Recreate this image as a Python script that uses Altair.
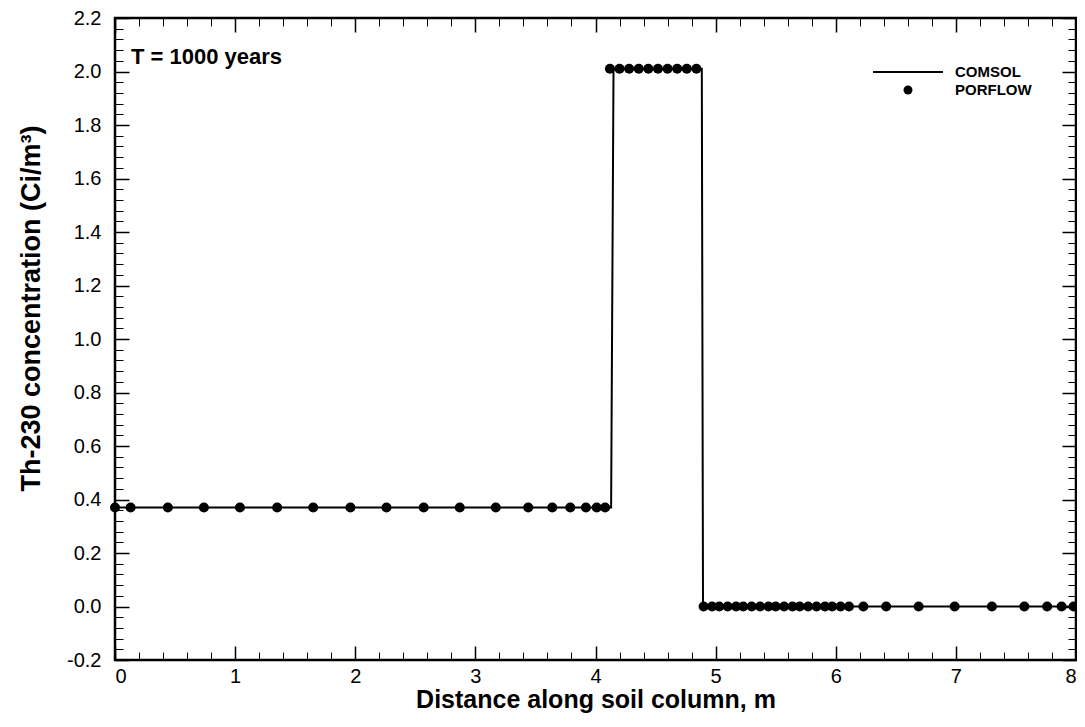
import altair as alt
import pandas as pd

# ---- data ----
comsol_x = [0.0, 4.13, 4.15, 4.885, 4.895, 8.0]
comsol_y = [0.37, 0.37, 2.01, 2.01, 0.0, 0.0]

porflow_left_x = [0.0, 0.13, 0.44, 0.74, 1.04, 1.35, 1.65, 1.96, 2.26, 2.57,
                  2.87, 3.17, 3.44, 3.64, 3.79, 3.92, 4.01, 4.08]
porflow_left_y = [0.37] * len(porflow_left_x)
porflow_mid_x = [4.12, 4.20, 4.28, 4.36, 4.44, 4.52, 4.60, 4.68, 4.76, 4.84]
porflow_mid_y = [2.01] * len(porflow_mid_x)
porflow_right_x = [4.90, 4.97, 5.03, 5.10, 5.17, 5.23, 5.30, 5.37, 5.44, 5.50,
                   5.57, 5.64, 5.70, 5.77, 5.84, 5.91, 5.97, 6.04, 6.11,
                   6.23, 6.42, 6.69, 6.99, 7.30, 7.57, 7.76, 7.88, 7.98]
porflow_right_y = [0.0] * len(porflow_right_x)

x_major = [0, 1, 2, 3, 4, 5, 6, 7, 8]
x_minor = [round(i * 0.2, 2) for i in range(41)]
y_major = [round(-0.2 + 0.2 * i, 2) for i in range(13)]
y_minor = [round(-0.2 + 0.04 * i, 2) for i in range(61)]

legend_labels = ["COMSOL", "PORFLOW"]
annotation = "T = 1000 years"
x_title = "Distance along soil column, m"
y_title = "Th-230 concentration (Ci/m\u00b3)"

comsol = pd.DataFrame({"x": comsol_x, "y": comsol_y})
porflow = pd.DataFrame({
    "x": porflow_left_x + porflow_mid_x + porflow_right_x,
    "y": porflow_left_y + porflow_mid_y + porflow_right_y,
})

W, H = 961, 642
FONT = "Liberation Sans"
xs = alt.Scale(domain=[0, 8], nice=False, zero=False)
ys = alt.Scale(domain=[-0.2, 2.2], nice=False, zero=False)


def tick_axis(orient, values, size, offset, width):
    return alt.Axis(orient=orient, values=values, tickSize=size, offset=offset,
                    labels=False, title=None, domain=False, grid=False,
                    ticks=True, tickColor="black", tickWidth=width)


y_label_expr = ("datum.value < 0 ? '-' + format(abs(datum.value), '.1f') : "
                "format(datum.value, '.1f')")

line = alt.Chart(comsol).mark_line(color="black", strokeWidth=2).encode(
    x=alt.X("x:Q", scale=xs, axis=alt.Axis(
        orient="bottom", values=x_major, ticks=False, domain=False, grid=False,
        labelFont=FONT, labelFontSize=20, labelColor="black", labelPadding=6,
        title=x_title, titleFont=FONT, titleFontSize=25, titleFontWeight="bold",
        titleColor="black", titleBaseline="middle", titleY=39, format="d")),
    y=alt.Y("y:Q", scale=ys, axis=alt.Axis(
        orient="left", values=y_major, ticks=False, domain=False, grid=False,
        labelFont=FONT, labelFontSize=20, labelColor="black", labelPadding=14,
        labelExpr=y_label_expr,
        title=y_title, titleFont=FONT, titleFontSize=27, titleFontWeight="bold",
        titleColor="black", titleBaseline="middle", titleX=-84, titleY=290)),
)

points = alt.Chart(porflow).mark_circle(color="black", size=100, opacity=1).encode(
    x=alt.X("x:Q", scale=xs, axis=tick_axis("top", x_major, 14, -H, 1.5)),
    y=alt.Y("y:Q", scale=ys, axis=tick_axis("right", y_major, 14, -W, 1.5)),
)

ghost = alt.Chart(porflow).mark_circle(opacity=0)
t_minor_bottom = ghost.encode(
    x=alt.X("x:Q", scale=xs, axis=tick_axis("top", x_minor, 8, -H, 1)),
    y=alt.Y("y:Q", scale=ys, axis=tick_axis("right", y_minor, 8, -W, 1)),
)
t_major_top = ghost.encode(
    x=alt.X("x:Q", scale=xs, axis=tick_axis("bottom", x_major, 14, -H, 1.5)),
    y=alt.Y("y:Q", scale=ys, axis=tick_axis("left", y_major, 14, -W, 1.5)),
)
t_minor_top = ghost.encode(
    x=alt.X("x:Q", scale=xs, axis=tick_axis("bottom", x_minor, 8, -H, 1)),
    y=alt.Y("y:Q", scale=ys, axis=tick_axis("left", y_minor, 8, -W, 1)),
)

one = pd.DataFrame({"k": [0]})
ann = alt.Chart(one).mark_text(
    text=annotation, font=FONT, fontSize=22, fontWeight="bold", color="black",
    align="left", baseline="middle").encode(x=alt.value(16), y=alt.value(39))

leg_line = alt.Chart(one).mark_rule(color="black", strokeWidth=2).encode(
    x=alt.value(758), x2=alt.value(828), y=alt.value(54))
leg_dot = alt.Chart(one).mark_circle(color="black", size=80, opacity=1).encode(
    x=alt.value(793), y=alt.value(72))
leg_t1 = alt.Chart(one).mark_text(
    text=legend_labels[0], font=FONT, fontSize=15, fontWeight="bold",
    color="black", align="left", baseline="middle").encode(
    x=alt.value(840), y=alt.value(54))
leg_t2 = alt.Chart(one).mark_text(
    text=legend_labels[1], font=FONT, fontSize=15, fontWeight="bold",
    color="black", align="left", baseline="middle").encode(
    x=alt.value(840), y=alt.value(72))

chart = alt.layer(
    line, points, t_minor_bottom, t_major_top, t_minor_top,
    ann, leg_line, leg_dot, leg_t1, leg_t2,
).resolve_axis(x="independent", y="independent").properties(
    width=W, height=H,
    autosize=alt.AutoSizeParams(type="none"),
    padding={"left": 107, "top": 10, "right": 1, "bottom": 57},
    background="white",
).configure_view(stroke="black", strokeWidth=2.5)

chart.save("out.html", embed_options={"renderer": "svg", "actions": False})
